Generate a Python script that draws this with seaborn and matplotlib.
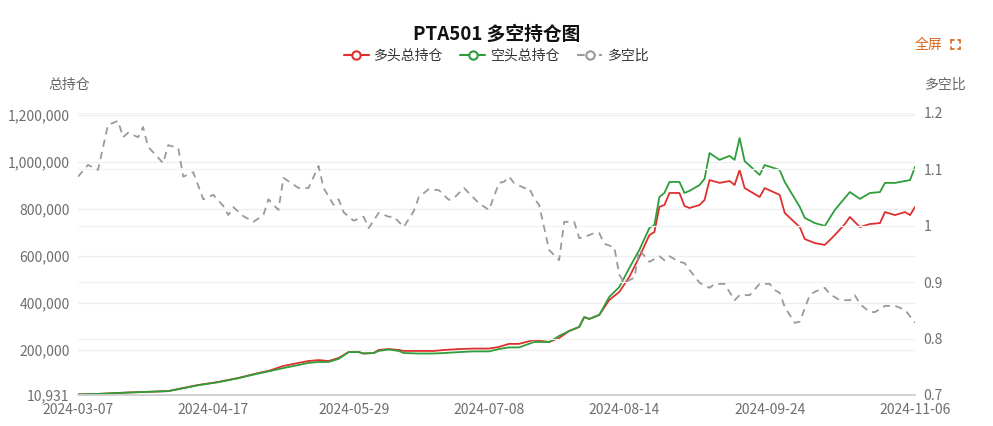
import matplotlib
matplotlib.use("Agg")
import matplotlib.pyplot as plt
import numpy as np
import seaborn as sns

sns.set_theme(style="white")
plt.rcParams['font.family'] = ['Noto Sans CJK SC', 'DejaVu Sans']

# trading-day index of each reading and the values
pos_day = [0, 4, 10, 18, 20, 24, 28, 32, 36, 38, 41, 44, 46, 48, 50, 52, 54, 56, 57, 59,
           60, 62, 64, 65, 68, 71, 73, 76, 79, 82, 84, 86, 88, 91, 94, 96, 98, 100, 101, 102,
           104, 106, 108, 110, 112, 114, 115, 116, 117, 118, 120, 121, 122, 124, 125, 126, 128, 130, 131, 132,
           133, 136, 137, 140, 141, 144, 145, 147, 149, 151, 153, 154, 156, 158, 160, 161, 163, 165, 166, 167]
long_pos = [11, 13, 19, 25, 34, 51, 64, 81, 102, 111, 132, 145, 153, 157, 153, 166, 191, 191, 185, 187,
            200, 204, 200, 196, 196, 196, 200, 204, 206, 206, 213, 226, 226, 243, 234, 251, 281, 298, 340, 332,
            349, 413, 447, 511, 596, 689, 702, 809, 817, 868, 868, 813, 804, 817, 838, 923, 911, 919, 902, 966,
            889, 851, 889, 860, 783, 723, 672, 655, 647, 689, 736, 766, 723, 736, 740, 787, 774, 787, 774, 809]
short_pos = [11, 13, 19, 25, 33, 50, 63, 80, 100, 109, 123, 136, 145, 149, 149, 162, 191, 191, 185, 187,
             196, 202, 196, 187, 185, 185, 187, 191, 194, 194, 204, 211, 211, 234, 234, 260, 281, 298, 340, 332,
             349, 426, 468, 549, 626, 719, 732, 851, 868, 915, 915, 868, 877, 902, 928, 1038, 1009, 1026, 1009, 1102,
             1004, 945, 987, 966, 915, 809, 762, 740, 728, 796, 847, 872, 843, 868, 872, 911, 911, 919, 923, 979]
long_pos = np.array(long_pos) * 1000
short_pos = np.array(short_pos) * 1000

ratio_day = [0, 2, 4, 6, 8, 9, 10, 12, 13, 14, 17, 18, 20, 21, 23, 25, 27, 29, 30, 31,
             33, 35, 37, 38, 40, 41, 44, 46, 48, 49, 51, 52, 53, 55, 57, 58, 60, 62, 63, 65,
             67, 68, 70, 72, 74, 75, 77, 80, 82, 84, 85, 86, 87, 89, 90, 91, 92, 94, 96, 97,
             99, 100, 101, 103, 104, 105, 107, 108, 109, 111, 112, 114, 116, 117, 118, 120, 121, 122, 124, 126,
             127, 129, 131, 132, 134, 136, 138, 139, 140, 141, 143, 144, 146, 147, 149, 150, 152, 154, 155, 156,
             158, 159, 161, 163, 165, 167]
ratio = [1.087, 1.108, 1.099, 1.179, 1.186, 1.157, 1.165, 1.157, 1.175, 1.14, 1.111, 1.143, 1.138, 1.087, 1.095, 1.047, 1.055, 1.035, 1.019, 1.033,
         1.017, 1.007, 1.019, 1.047, 1.028, 1.085, 1.067, 1.067, 1.106, 1.067, 1.037, 1.047, 1.024, 1.009, 1.016, 0.996, 1.023, 1.016, 1.016, 0.998,
         1.026, 1.051, 1.065, 1.063, 1.046, 1.049, 1.067, 1.04, 1.028, 1.076, 1.078, 1.087, 1.076, 1.067, 1.067, 1.049, 1.037, 0.957, 0.939, 1.007,
         1.007, 0.978, 0.98, 0.987, 0.987, 0.968, 0.962, 0.913, 0.899, 0.908, 0.957, 0.936, 0.946, 0.939, 0.946, 0.936, 0.934, 0.922, 0.899, 0.89,
         0.897, 0.897, 0.868, 0.877, 0.877, 0.897, 0.897, 0.886, 0.881, 0.856, 0.828, 0.83, 0.877, 0.883, 0.89, 0.879, 0.868, 0.868, 0.877, 0.861,
         0.847, 0.847, 0.858, 0.858, 0.851, 0.828]

tick_days = [0, 27, 55, 82, 109, 138, 167]
tick_labels = ['2024-03-07', '2024-04-17', '2024-05-29', '2024-07-08', '2024-08-14', '2024-09-24', '2024-11-06']
left_ticks = [10931, 200000, 400000, 600000, 800000, 1000000, 1200000]
right_ticks = [0.7, 0.8, 0.9, 1.0, 1.1, 1.2]

RED, GREEN, GREY, ORANGE = '#e02f2f', '#2e9e3a', '#9a9a9a', '#d9651c'

fig = plt.figure(figsize=(9.93, 4.26), dpi=100)
ax = fig.add_axes([0.0785, 0.0728, 0.843, 0.662])
ax2 = ax.twinx()

sns.lineplot(x=pos_day, y=long_pos, ax=ax, color=RED, lw=1.3)
sns.lineplot(x=pos_day, y=short_pos, ax=ax, color=GREEN, lw=1.3)
sns.lineplot(x=ratio_day, y=ratio, ax=ax2, color=GREY, lw=1.3, linestyle=(0, (4, 3)))

ax.set_xlim(0, 167)
ax.set_ylim(8500, 1208500)
ax2.set_ylim(0.7, 1.2)
ax.set_yticks(left_ticks)
ax.set_yticklabels([f'{v:,}' for v in left_ticks])
ax2.set_yticks(right_ticks)
ax2.set_yticklabels(['0.7', '0.8', '0.9', '1', '1.1', '1.2'])
ax.set_xticks(tick_days)
ax.set_xticklabels(tick_labels)

for a in (ax, ax2):
    for s in a.spines.values():
        s.set_visible(False)
    a.tick_params(length=0, labelsize=10, colors='#6e6e6e', pad=6)
ax.spines['bottom'].set_visible(True)
ax.spines['bottom'].set_color('#cccccc')
ax.grid(axis='y', color='#eeeeee', lw=0.9)
ax2.grid(axis='y', color='#f2f2f2', lw=0.9)
ax.set_axisbelow(True)

fig.text(0.5, 0.92, 'PTA501 多空持仓图', ha='center', va='center', fontsize=13.5, fontweight='bold', color='#111111')
fig.text(0.07, 0.80, '总持仓', ha='center', va='center', fontsize=10, color='#666666')
fig.text(0.952, 0.80, '多空比', ha='center', va='center', fontsize=10, color='#666666')
fig.text(0.9495, 0.895, '全屏', ha='right', va='center', fontsize=10, color=ORANGE)

# fullscreen icon: four small corner brackets
cx, cy, hw, hh, t = 0.9625, 0.895, 0.0045, 0.0105, 0.0025
for sx in (-1, 1):
    for sy in (-1, 1):
        x0, y0 = cx + sx * hw, cy + sy * hh
        fig.add_artist(plt.Line2D([x0, x0 - sx * t], [y0, y0], color=ORANGE, lw=1.2, transform=fig.transFigure))
        fig.add_artist(plt.Line2D([x0, x0], [y0, y0 - sy * t * 2.3], color=ORANGE, lw=1.2, transform=fig.transFigure))

handles = [plt.Line2D([], [], color=c, lw=1.5, ls=ls, marker='o', ms=6, mfc='white', mew=1.5)
           for c, ls in ((RED, '-'), (GREEN, '-'), (GREY, '--'))]
fig.legend(handles, ['多头总持仓', '空头总持仓', '多空比'], loc='center', bbox_to_anchor=(0.5, 0.87),
           ncol=3, frameon=False, fontsize=10, handlelength=1.8, columnspacing=1.2, handletextpad=0.4,
           labelcolor='#333333')

fig.savefig('out.png', dpi=100)
